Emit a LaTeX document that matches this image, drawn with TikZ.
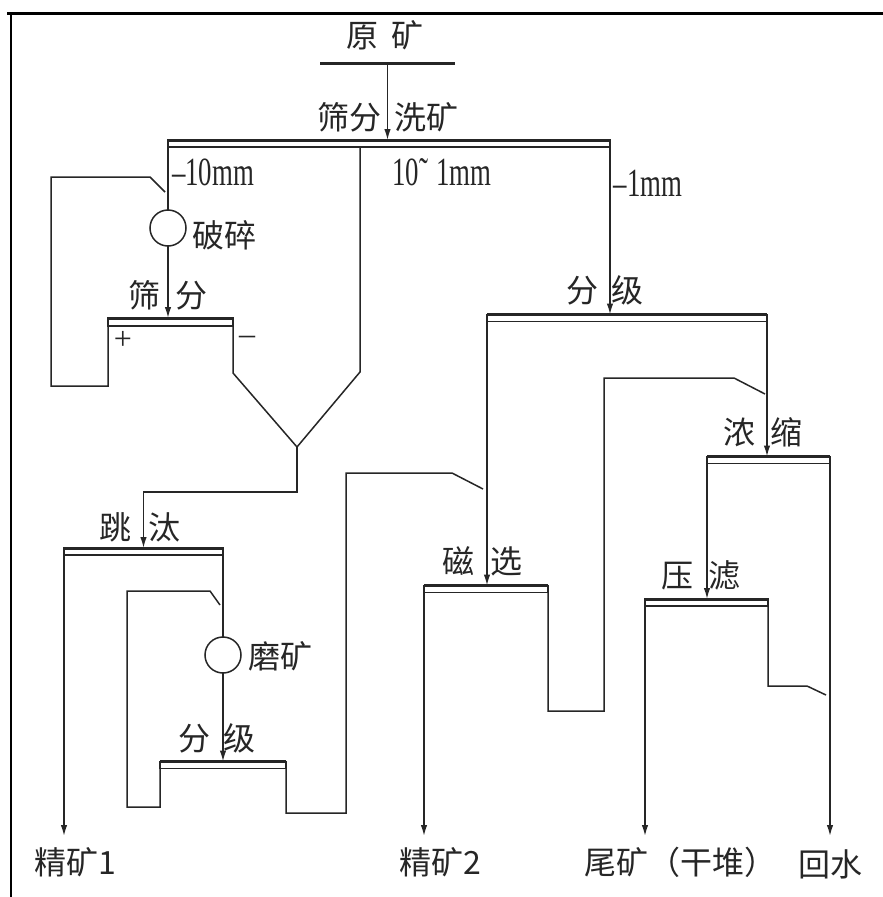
\documentclass[tikz,border=0pt]{standalone}
\usepackage{fontspec}
\setmainfont{Liberation Serif}
\newfontfamily\cjk{Noto Sans CJK SC}
\usetikzlibrary{arrows.meta}
\begin{document}
\begin{tikzpicture}[x=1pt,y=-1pt,
  line/.style={line width=1.5pt, black!85},
  arr/.style={line, -{Latex[length=11pt,width=6.5pt]}},
  scr/.style={draw, line width=1.2pt, inner sep=0pt, outer sep=0pt, minimum height=7pt, black!85},
  bar/.style={line width=3pt, black!85},
  mill/.style={circle, draw, line width=1.5pt, minimum size=36pt, inner sep=0pt, outer sep=0pt, black!85},
  cn/.style={font=\cjk\fontsize{32}{32}\selectfont, inner sep=0pt, text=black!85},
  lat/.style={font=\fontsize{40}{40}\selectfont, inner sep=0pt, text=black!85},
]
\useasboundingbox (0,0) rectangle (883,897);
\fill[white] (0,0) rectangle (883,897);
% frame
\draw[line width=3pt] (7,13) -- (883,13);
\draw[line width=2pt] (11,13) -- (11,897);

% labels
\node[cn] (t0) at (385,35) {原\hspace{13pt}矿};
\node[fill=black!85, inner sep=0pt, outer sep=0pt, minimum width=135pt, minimum height=3pt] (feed) at (387.5,63) {};
\node[cn] (t1a) at (349,117) {筛分};
\node[cn] (t1b) at (426,117) {洗矿};
\node[lat] (m1) at (213,172) {\scalebox{0.67}[1]{–10mm}};
\node[lat] (m2) at (442,172) {\scalebox{0.67}[1]{10˜\hspace{12pt}1mm}};
\node[lat] (m3) at (648,183) {\scalebox{0.67}[1]{–1mm}};

% screens
\node[scr, minimum width=442pt] (s0) at (389,143.5) {};
\node[scr, minimum width=125pt, minimum height=8pt] (s1) at (170.5,322) {};
\node[scr, minimum width=280pt] (s2) at (627,318) {};
\node[scr, minimum width=123pt] (s3) at (768.5,460) {};
\node[scr, minimum width=159pt] (s4) at (143.5,551.5) {};
\node[scr, minimum width=124pt] (s5) at (486,589) {};
\node[scr, minimum width=123pt] (s6) at (706.5,602.5) {};
\node[scr, minimum width=126pt] (s7) at (223,765) {};
\foreach \s in {s0,s1,s2,s3,s4,s5,s6,s7}
  \draw[bar] (\s.north west) -- (\s.north east);

% mills
\node[mill] (c1) at (168,228) {};
\node[mill] (c2) at (223,655) {};

% unit labels
\node[cn, anchor=west] (t2) at (192,235) {破碎};
\node[cn] (t3) at (168,295) {筛\hspace{15pt}分};
\node[font=\fontsize{32}{32}\selectfont, inner sep=0pt, text=black!85] (plus) at (123,340) {+};
\node[font=\fontsize{32}{32}\selectfont, inner sep=0pt, text=black!85] (minus) at (247,340) {–};
\node[cn] (t4) at (605,290) {分\hspace{14pt}级};
\node[cn] (t5) at (763,432) {浓\hspace{15pt}缩};
\node[cn] (t6) at (140,527) {跳\hspace{17pt}汰};
\node[cn] (t7) at (482,561) {磁\hspace{16pt}选};
\node[cn] (t8) at (701,575) {压\hspace{15pt}滤};
\node[cn, anchor=west] (t9) at (248,656) {磨矿};
\node[cn] (t10) at (217,738) {分\hspace{13pt}级};

% products
\node[cn] (p1) at (75,862) {精矿1};
\node[cn] (p2) at (440,862) {精矿2};
\node[cn] (p3) at (680,862) {尾矿（干堆）};
\node[cn] (p4) at (830,864) {回水};
\coordinate (bot) at (0,836);
\coordinate (fz) at (297,447);

% connectors
\draw[arr] (feed.south) -- (feed.south |- s0.north);
\draw[line] (s0.south west) -- (c1.north);
\draw[arr] (c1.south) -- (c1.south |- s1.north);
\draw[line] (s1.south west) -- (108,386) -- (51,386) -- (51,177) -- (150,177) -- (165,192);
\draw[line] (s1.south east) -- (233,373) -- (fz);
\draw[line] (s0.south -| 360,0) -- (360,372) -- (fz);
\draw[arr] (fz) -- (297,492) -- (s4.north |- 0,492) -- (s4.north);
\draw[arr] (s0.south east) -- (s0.south east |- s2.north);
\draw[arr] (s2.south west) -- (s2.south west |- s5.north);
\draw[arr] (s2.south east) -- (s2.south east |- s3.north);
\draw[arr] (s3.south west) -- (s3.south west |- s6.north);
\draw[arr] (s3.south east) -- (s3.south east |- bot);
\draw[arr] (s6.south west) -- (s6.south west |- bot);
\draw[arr] (s5.south west) -- (s5.south west |- bot);
\draw[arr] (s4.south west) -- (s4.south west |- bot);
\draw[line] (s6.south east) -- (768,686) -- (807,686) -- (826,695);
\draw[line] (s5.south east) -- (548,711) -- (604,711) -- (604,378) -- (734,378) -- (765,394);
\draw[line] (s4.south east) -- (c2.north);
\draw[arr] (c2.south) -- (c2.south |- s7.north);
\draw[line] (s7.south west) -- (160,807) -- (127,807) -- (127,591) -- (210,591) -- (220,605);
\draw[line] (s7.south east) -- (286,813) -- (346,813) -- (346,473) -- (452,473) -- (483,489);
\end{tikzpicture}
\end{document}
